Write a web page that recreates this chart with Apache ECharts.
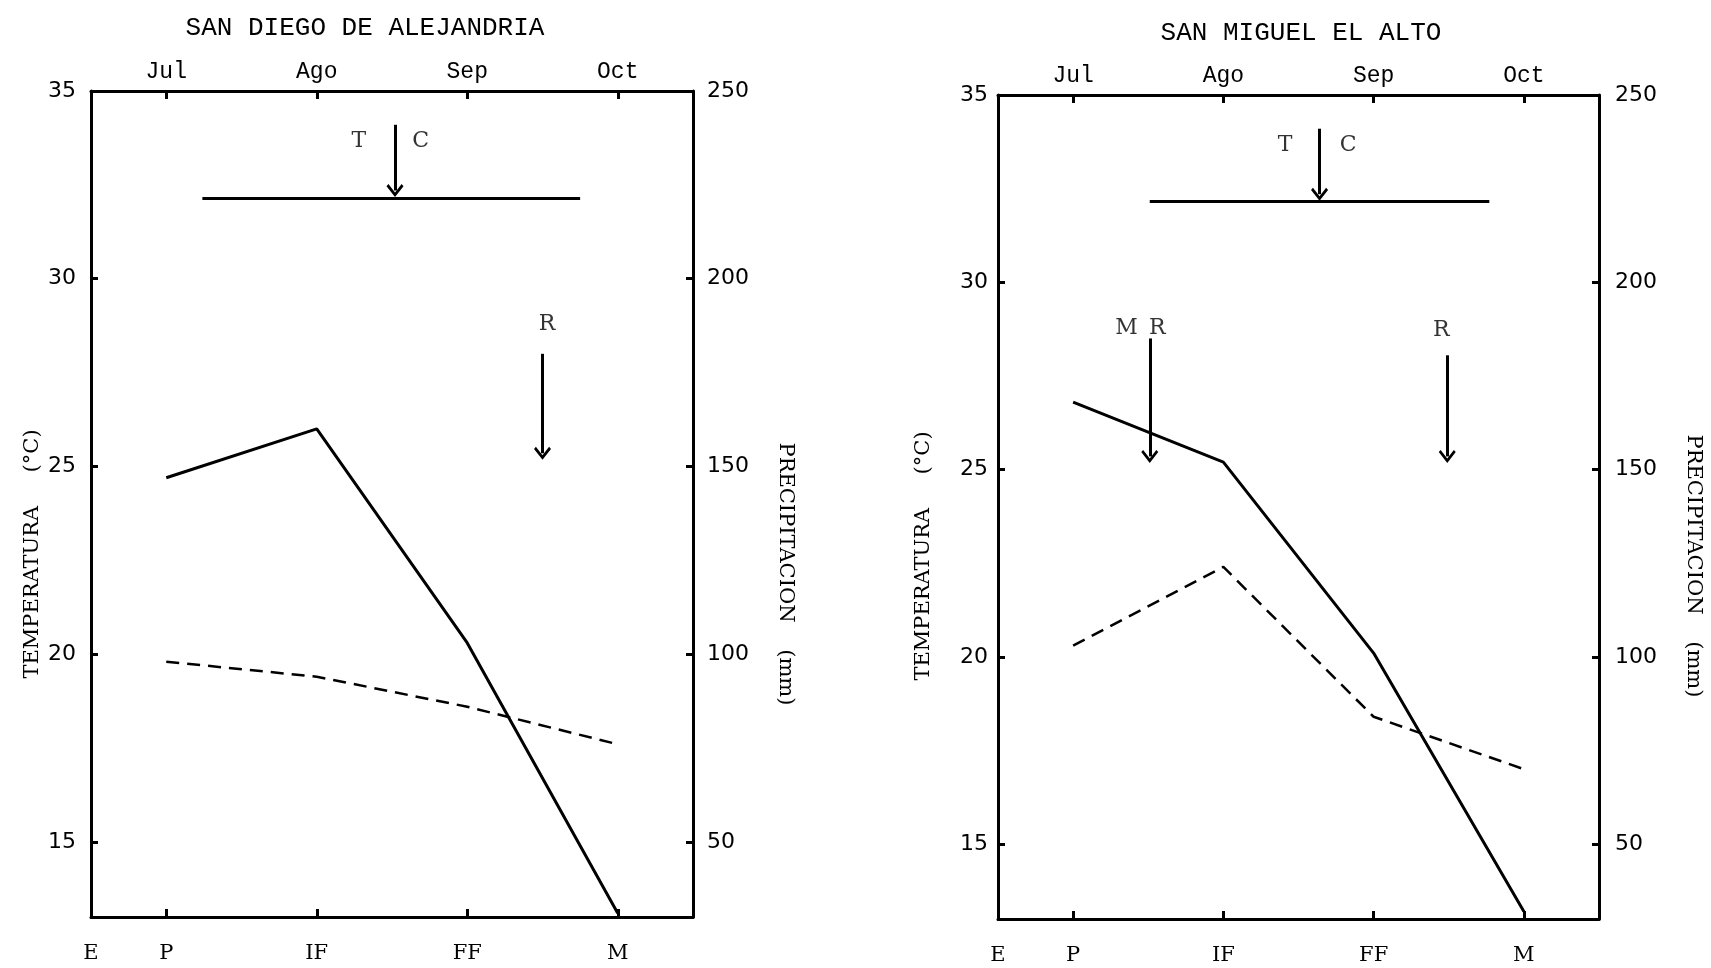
<!DOCTYPE html>
<html>
<head>
<meta charset="utf-8">
<script src="https://cdn.jsdelivr.net/npm/echarts@6/dist/echarts.min.js"></script>
<style>
  html, body { margin: 0; padding: 0; background: #fff; }
  #main { width: 1711px; height: 968px; }
</style>
</head>
<body>
<div id="main"></div>
<script>
// etapas fenologicas (eje inferior) y meses (eje superior)
var phasePos = [0, 0.5, 1.5, 2.5, 3.5];
var phaseLabels = ["E", "P", "IF", "FF", "M"];
var monthPos = [0.5, 1.5, 2.5, 3.5];
var monthLabels = ["Jul", "Ago", "Sep", "Oct"];
var tempTicks = [15, 20, 25, 30, 35];
var precipTicks = [50, 100, 150, 200, 250];
var stations = ["SAN DIEGO DE ALEJANDRIA", "SAN MIGUEL EL ALTO"];

// San Diego de Alejandria
var sdPrecip = [147, 160, 103, 31];
var sdTemp = [19.8, 19.4, 18.6, 17.6];
// San Miguel el Alto
var smPrecip = [168, 152, 101, 32];
var smTemp = [20.3, 22.4, 18.4, 17.0];

// anotaciones: barra [x1, x2, y], flechas [x, yInicio, yFin], letras [texto, x, y]
var sdBar = [0.74, 3.25, 32.15];
var smBar = [1.01, 3.27, 32.15];
var sdArrows = [[2.02, 34.1, 32.35], [3.0, 28.0, 25.35]];
var smArrows = [[2.14, 34.1, 32.35], [1.01, 28.5, 25.35], [2.99, 28.05, 25.35]];
var sdMarks = [["T", 1.78, 33.65], ["C", 2.19, 33.65], ["R", 3.03, 28.8]];
var smMarks = [["T", 1.91, 33.65], ["C", 2.33, 33.65], ["M", 0.855, 28.78], ["R", 1.06, 28.78], ["R", 2.95, 28.73]];

var chevron = "path://M8,0 L16,10 L14.2,12 L8,4.2 L1.8,12 L0,10 Z";
var ink = "#000";
var serif = "DejaVu Serif";

var myChart = echarts.init(document.getElementById("main"));

var grids = [
  { left: 91, right: 1018, top: 91, bottom: 51 },
  { left: 998, right: 112, top: 95, bottom: 49 },
];

function xAxes(g) {
  return [
    {
      type: "value", gridIndex: g, position: "bottom", min: 0, max: 4,
      axisLine: { show: true, onZero: false, lineStyle: { color: ink, width: 3 } },
      axisTick: { show: true, inside: true, length: 8, customValues: monthPos, lineStyle: { color: ink, width: 3 } },
      axisLabel: {
        customValues: phasePos, margin: 26, color: ink,
        fontFamily: serif, fontSize: 21,
        formatter: function (v) { return phaseLabels[phasePos.indexOf(v)]; },
      },
      splitLine: { show: false },
    },
    {
      type: "value", gridIndex: g, position: "top", min: 0, max: 4,
      axisLine: { show: true, onZero: false, lineStyle: { color: ink, width: 3 } },
      axisTick: { show: true, inside: true, length: 8, customValues: monthPos, lineStyle: { color: ink, width: 3 } },
      axisLabel: {
        customValues: monthPos, margin: 8, color: ink,
        fontFamily: "Liberation Mono", fontSize: 23,
        formatter: function (v) { return monthLabels[monthPos.indexOf(v)]; },
      },
      splitLine: { show: false },
    },
  ];
}

function yAxes(g, leftMargin, rightMargin, leftGap, rightGap, leftPad, rightPad) {
  return [
    {
      type: "value", gridIndex: g, position: "left", min: 13, max: 35,
      name: "TEMPERATURA     (°C)", nameLocation: "middle", nameRotate: 90, nameGap: leftGap,
      nameTextStyle: { fontFamily: serif, fontSize: 21, color: ink, padding: [0, leftPad, 0, 0] },
      axisLine: { show: true, onZero: false, lineStyle: { color: ink, width: 3 } },
      axisTick: { show: true, inside: true, length: 7, customValues: [15, 20, 25, 30], lineStyle: { color: ink, width: 3 } },
      axisLabel: { customValues: tempTicks, margin: leftMargin, color: ink, fontFamily: "DejaVu Sans", fontSize: 22 },
      splitLine: { show: false },
    },
    {
      type: "value", gridIndex: g, position: "right", min: 30, max: 250,
      name: "PRECIPITACION    (mm)", nameLocation: "middle", nameRotate: -90, nameGap: rightGap,
      nameTextStyle: { fontFamily: serif, fontSize: 21, color: ink, padding: [0, 0, 0, rightPad] },
      axisLine: { show: true, onZero: false, lineStyle: { color: ink, width: 3 } },
      axisTick: { show: true, inside: true, length: 7, customValues: [50, 100, 150, 200], lineStyle: { color: ink, width: 3 } },
      axisLabel: { customValues: precipTicks, margin: rightMargin, color: ink, fontFamily: "DejaVu Sans", fontSize: 22 },
      splitLine: { show: false },
    },
  ];
}

function pairs(vals) {
  return monthPos.map(function (x, i) { return [x, vals[i]]; });
}

function stationSeries(g, precip, temp, bar, arrows, marks) {
  var lines = [[{ coord: [bar[0], bar[2]], symbol: "none" }, { coord: [bar[1], bar[2]], symbol: "none" }]];
  arrows.forEach(function (a) {
    lines.push([{ coord: [a[0], a[1]], symbol: "none" }, { coord: [a[0], a[2]], symbol: chevron, symbolSize: [17, 13] }]);
  });
  return [
    {
      type: "line", xAxisIndex: g * 2, yAxisIndex: g * 2 + 1,
      data: pairs(precip), symbol: "none",
      lineStyle: { color: ink, width: 3 },
    },
    {
      type: "line", xAxisIndex: g * 2, yAxisIndex: g * 2,
      data: pairs(temp), symbol: "none",
      lineStyle: { color: ink, width: 2.5, type: [13, 8] },
      markLine: {
        silent: true, symbol: "none", label: { show: false },
        lineStyle: { color: ink, width: 3, type: "solid" },
        emphasis: { disabled: true },
        data: lines,
      },
    },
    {
      type: "scatter", xAxisIndex: g * 2, yAxisIndex: g * 2,
      symbolSize: 0, silent: true,
      data: marks.map(function (m) { return { name: m[0], value: [m[1], m[2]] }; }),
      label: {
        show: true, position: "inside", color: ink,
        fontFamily: serif, fontSize: 22,
        formatter: function (p) { return p.name; },
      },
    },
  ];
}

myChart.setOption({
  backgroundColor: "#fff",
  animation: false,
  title: [
    { text: stations[0], left: 360, top: 10, textAlign: "center",
      textStyle: { fontFamily: "Liberation Mono", fontSize: 26, fontWeight: "normal", color: ink } },
    { text: stations[1], left: 1296, top: 15, textAlign: "center",
      textStyle: { fontFamily: "Liberation Mono", fontSize: 26, fontWeight: "normal", color: ink } },
  ],
  grid: grids,
  xAxis: xAxes(0).concat(xAxes(1)),
  yAxis: yAxes(0, 15, 14, 48, 82, 100, 140).concat(yAxes(1, 10, 16, 64, 84, 98, 118)),
  series: stationSeries(0, sdPrecip, sdTemp, sdBar, sdArrows, sdMarks)
    .concat(stationSeries(1, smPrecip, smTemp, smBar, smArrows, smMarks)),
});
</script>
</body>
</html>
